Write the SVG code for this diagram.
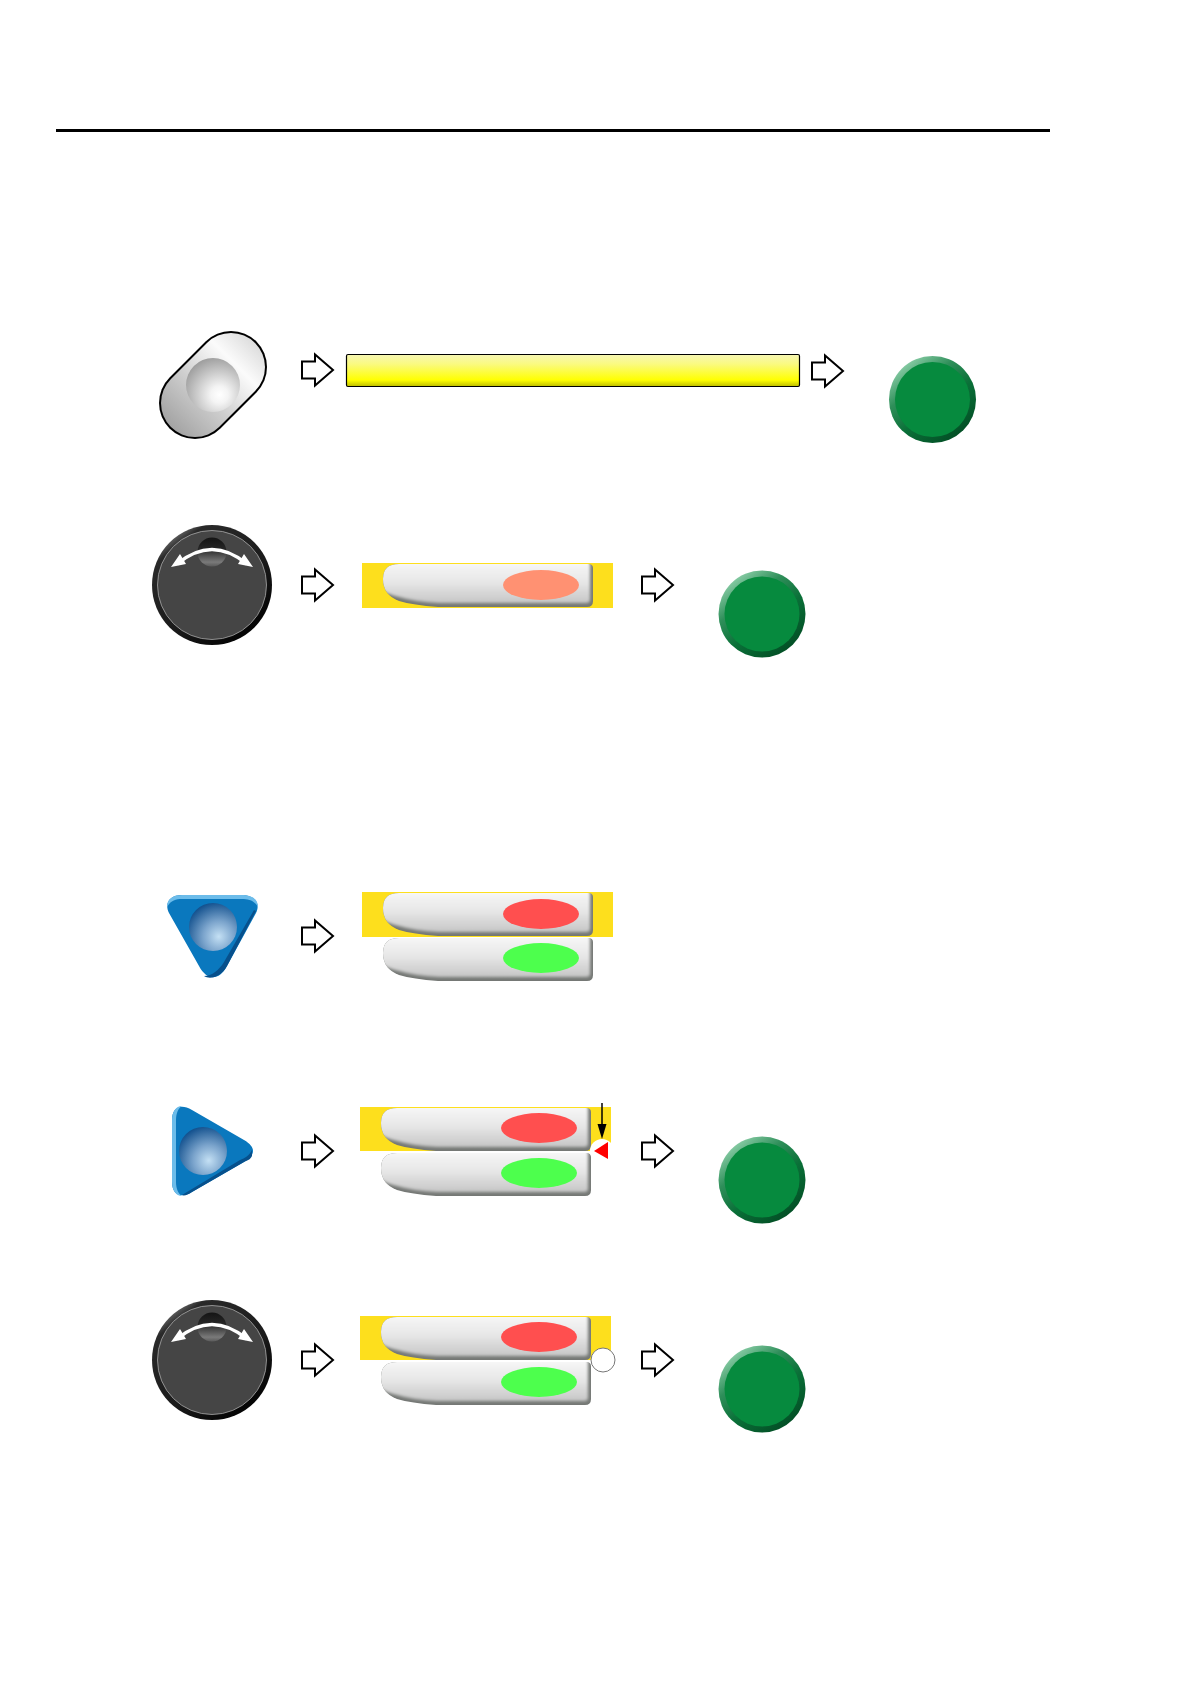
<svg xmlns="http://www.w3.org/2000/svg" xmlns:xlink="http://www.w3.org/1999/xlink" width="1190" height="1684" viewBox="0 0 1190 1684">
<defs>
<linearGradient id="pillG" gradientUnits="userSpaceOnUse" x1="170" y1="428" x2="256" y2="342"><stop offset="0" stop-color="#a2a2a2"/><stop offset="0.4" stop-color="#cfcfcf"/><stop offset="0.75" stop-color="#fbfbfb"/><stop offset="1" stop-color="#dcdcdc"/></linearGradient>
<radialGradient id="sphG" cx="0.62" cy="0.68" r="0.72"><stop offset="0" stop-color="#ffffff"/><stop offset="0.22" stop-color="#f4f4f4"/><stop offset="1" stop-color="#9c9c9c"/></radialGradient>
<radialGradient id="blueS" cx="0.62" cy="0.7" r="0.72"><stop offset="0" stop-color="#c4e0f4"/><stop offset="0.45" stop-color="#7ba4cc"/><stop offset="1" stop-color="#14528f"/></radialGradient>
<linearGradient id="yelG" x1="0" y1="0" x2="0" y2="1"><stop offset="0" stop-color="#f6f6b4"/><stop offset="0.3" stop-color="#fafa80"/><stop offset="0.8" stop-color="#ffff00"/><stop offset="1" stop-color="#bcbc00"/></linearGradient>
<linearGradient id="btnG" x1="0" y1="0" x2="0" y2="1"><stop offset="0" stop-color="#fbfbfb"/><stop offset="0.55" stop-color="#e6e6e6"/><stop offset="1" stop-color="#c6c6c6"/></linearGradient>
<linearGradient id="ringG" x1="0.2" y1="0.1" x2="0.8" y2="0.9"><stop offset="0" stop-color="#82c8a0"/><stop offset="0.28" stop-color="#2f8f5a"/><stop offset="0.6" stop-color="#0a7038"/><stop offset="1" stop-color="#035026"/></linearGradient>
<linearGradient id="knobRing" x1="0.15" y1="0.05" x2="0.85" y2="0.95"><stop offset="0" stop-color="#888"/><stop offset="0.12" stop-color="#2a2a2a"/><stop offset="0.6" stop-color="#1a1a1a"/><stop offset="1" stop-color="#000"/></linearGradient>
<linearGradient id="holeG" x1="0" y1="0" x2="0" y2="1"><stop offset="0" stop-color="#141414"/><stop offset="0.4" stop-color="#262626"/><stop offset="0.85" stop-color="#7a7a7a"/><stop offset="1" stop-color="#5a5a5a"/></linearGradient>
<filter id="soft" x="-10%" y="-20%" width="120%" height="140%"><feGaussianBlur stdDeviation="1.600"/></filter>
<path id="btnShape" d="M16,0 H205 Q210,0 210,4 V37 Q210,43 204,43 H55 Q30,41 16,37 Q0,31 0,15 Q0,0 16,0 Z"/>
<clipPath id="btnClip"><use xlink:href="#btnShape" href="#btnShape"/></clipPath>
<g id="btn"><g clip-path="url(#btnClip)"><rect x="-2" y="-2" width="214" height="48" fill="#757875"/><path d="M-6,-6 H207 V36 Q207,39 203,39 H56 Q32,38 16,33 Q-6,28 -6,15 Z" fill="url(#btnG)" filter="url(#soft)"/></g></g>
<g id="green"><circle r="43.5" fill="url(#ringG)"/><circle r="37.500" fill="#068a3e"/></g>
<path id="blk" d="M0,-8.5 H13 V-15.5 L31,0 L13,15.5 V8.5 H0 Z" fill="#fff" stroke="#000" stroke-width="2"/>
<g id="knob"><circle r="60" fill="url(#knobRing)"/><circle r="54.500" fill="#454545" stroke="#a8a8a8" stroke-width="0.800"/><circle cy="-33" r="14.500" fill="url(#holeG)"/><path d="M-35,-21 Q0,-50 35,-21" fill="none" stroke="#fff" stroke-width="3.500"/><path d="M-41,-18 L-32,-31 L-26,-21 Z M41,-18 L32,-31 L26,-21 Z" fill="#fff"/></g>
</defs>
<style>.y{fill:#fddf1d}.r{fill:#ff4f4f}.g{fill:#4dff4d}</style>
<rect width="1190" height="1684" fill="#fff"/>
<line id="rule" x1="56" y1="130.500" x2="1050" y2="130.500" stroke="#000" stroke-width="3"/>
<g id="connectors">
<use xlink:href="#blk" href="#blk" x="302" y="370"/>
<use xlink:href="#blk" href="#blk" x="812" y="371"/>
<use xlink:href="#blk" href="#blk" x="302" y="585"/>
<use xlink:href="#blk" href="#blk" x="642" y="585"/>
<use xlink:href="#blk" href="#blk" x="302" y="936"/>
<use xlink:href="#blk" href="#blk" x="302" y="1151"/>
<use xlink:href="#blk" href="#blk" x="642" y="1151"/>
<use xlink:href="#blk" href="#blk" x="302" y="1360"/>
<use xlink:href="#blk" href="#blk" x="642" y="1360"/>
</g>
<g id="pill-button"><path d="M195,403 L231,367" stroke="#000" stroke-width="72" stroke-linecap="round"/><path d="M195,403 L231,367" stroke="url(#pillG)" stroke-width="68" stroke-linecap="round"/><circle cx="213" cy="385" r="27" fill="url(#sphG)"/></g>
<g id="display-bar"><rect x="346.500" y="354.500" width="453" height="32" rx="1.500" fill="url(#yelG)" stroke="#000" stroke-width="1.200"/></g>
<g id="green-1"><use xlink:href="#green" href="#green" x="932.500" y="399.500"/></g>
<g id="knob-1"><use xlink:href="#knob" href="#knob" x="212" y="585"/></g>
<g id="capsule-1"><rect class="y" x="362" y="563" width="251" height="45"/><use xlink:href="#btn" href="#btn" x="383" y="564"/><ellipse cx="541" cy="585" rx="38" ry="15" fill="#ff9172"/></g>
<g id="green-2"><use xlink:href="#green" href="#green" x="762" y="614"/></g>
<g id="triangle-down"><path d="M182,895 H242 C254,895 261,903 256,913 L227,966 C219,981 207,981 199,966 L169,913 C164,903 170,895 182,895 Z" fill="#0a78be"/><path d="M167,907 C167,898 174,895 182,895 H242 C250,895 258,898 258,907 C254,900 248,899 242,899 H182 C176,899 171,900 167,907 Z" fill="#6cbcea"/><path d="M256,911 L227,966 C221,977 210,980 204,976 C212,976 219,970 224,962 L254,910 Z" fill="#07508c"/><circle cx="213" cy="927" r="24" fill="url(#blueS)"/></g>
<g id="capsule-2"><rect class="y" x="362" y="892" width="251" height="45"/><use xlink:href="#btn" href="#btn" x="383" y="893"/><ellipse class="r" cx="541" cy="914" rx="38" ry="15"/><use xlink:href="#btn" href="#btn" x="383" y="938"/><ellipse class="g" cx="541" cy="958" rx="38" ry="15"/></g>
<g id="triangle-right"><path d="M172,1120 C172,1108 180,1103 192,1110 L244,1140 C256,1147 256,1155 244,1162 L192,1192 C180,1199 172,1194 172,1182 Z" fill="#0a78be"/><path d="M182,1106 C176,1106 172,1112 172,1120 V1182 C172,1190 176,1196 182,1196 C178,1194 176,1188 176,1182 V1120 C176,1114 178,1108 182,1106 Z" fill="#6cbcea"/><path d="M252,1156 C250,1160 248,1160 244,1162 L192,1192 C188,1195 184,1196 182,1195 L240,1160 C245,1158 249,1156 252,1150 Z" fill="#07508c"/><circle cx="203" cy="1151" r="24" fill="url(#blueS)"/></g>
<g id="capsule-3"><rect class="y" x="360" y="1107" width="251" height="44"/><use xlink:href="#btn" href="#btn" x="381" y="1108"/><ellipse class="r" cx="539" cy="1128" rx="38" ry="15"/><use xlink:href="#btn" href="#btn" x="381" y="1153"/><ellipse class="g" cx="539" cy="1173" rx="38" ry="15"/><circle cx="602" cy="1151" r="12" fill="#fff"/><path d="M594,1151 L608,1142 V1159 Z" fill="#f00"/><line x1="602" y1="1103" x2="602" y2="1128" stroke="#000" stroke-width="1.500"/><path d="M597.500,1124 H606.500 L602,1139 Z" fill="#000"/></g>
<g id="green-3"><use xlink:href="#green" href="#green" x="762" y="1180"/></g>
<g id="knob-2"><use xlink:href="#knob" href="#knob" x="212" y="1360"/></g>
<g id="capsule-4"><rect class="y" x="360" y="1316" width="251" height="44"/><use xlink:href="#btn" href="#btn" x="381" y="1317"/><ellipse class="r" cx="539" cy="1337" rx="38" ry="15"/><use xlink:href="#btn" href="#btn" x="381" y="1362"/><ellipse class="g" cx="539" cy="1382" rx="38" ry="15"/><circle cx="603" cy="1360" r="12" fill="#fff" stroke="#777" stroke-width="1"/></g>
<g id="green-4"><use xlink:href="#green" href="#green" x="762" y="1389"/></g>
</svg>
